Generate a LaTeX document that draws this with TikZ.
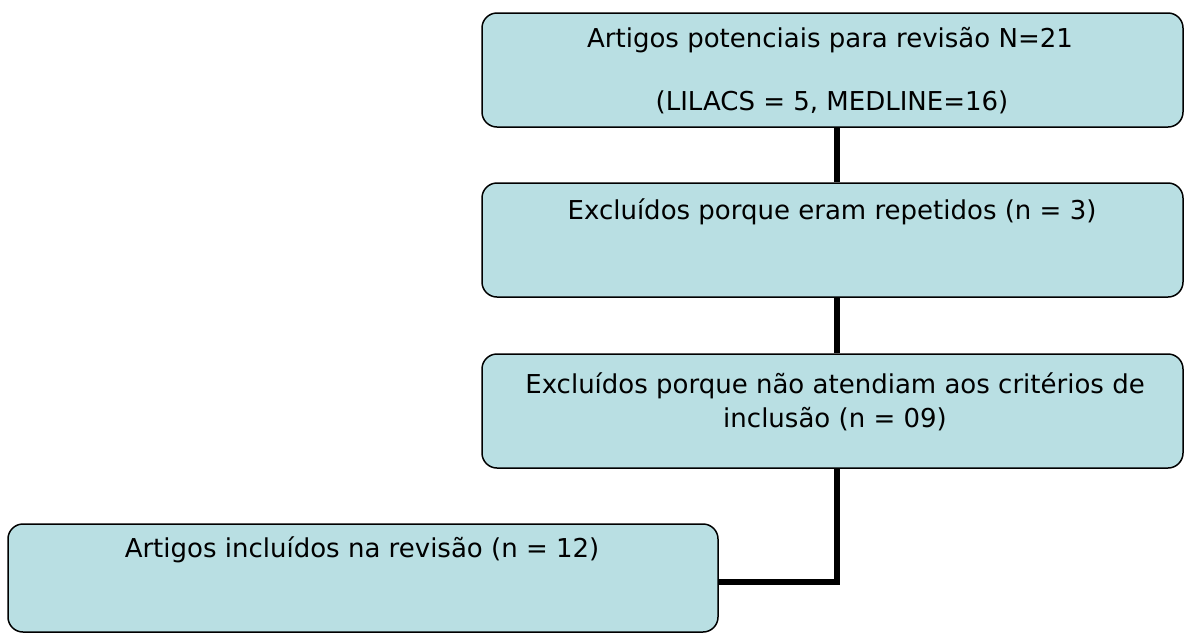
\documentclass[tikz,border=0pt]{standalone}
\usepackage{fontspec}
\setmainfont{DejaVu Sans}
\definecolor{boxfill}{RGB}{185,223,227}
\tikzset{
  flowbox/.style={draw=black, line width=1.5pt, fill=boxfill, rounded corners=15pt, inner sep=0pt},
  lbl/.style={anchor=base, inner sep=0pt, font=\fontsize{26}{30}\selectfont},
  conn/.style={draw=black, line width=5.5pt}
}
\begin{document}
\begin{tikzpicture}[x=1pt,y=-1pt]
\useasboundingbox (0,0) rectangle (1184,633);
\node[flowbox, minimum width=701pt, minimum height=114pt] (b1) at (832.5,70) {};
\node[flowbox, minimum width=701pt, minimum height=114pt] (b2) at (832.5,240) {};
\node[flowbox, minimum width=701pt, minimum height=114pt] (b3) at (832.5,411) {};
\node[flowbox, minimum width=710pt, minimum height=108pt] (b4) at (363,578) {};
\node[lbl] (t1a) at (830,47) {Artigos potenciais para revisão N=21};
\node[lbl] (t1b) at (832,110) {(LILACS = 5, MEDLINE=16)};
\node[lbl] (t2) at (832,219) {Excluídos porque eram repetidos (n = 3)};
\node[lbl] (t3a) at (835,393) {Excluídos porque não atendiam aos critérios de};
\node[lbl] (t3b) at (835,427) {inclusão (n = 09)};
\node[lbl] (t4) at (362,557) {Artigos incluídos na revisão (n = 12)};
\coordinate (sp) at (837,0);
\coordinate (jn) at (718,582);
\draw[conn] (b1.south -| sp) -- (b2.north -| sp);
\draw[conn] (b2.south -| sp) -- (b3.north -| sp);
\draw[conn] (b3.south -| sp) |- (jn);
\end{tikzpicture}
\end{document}
